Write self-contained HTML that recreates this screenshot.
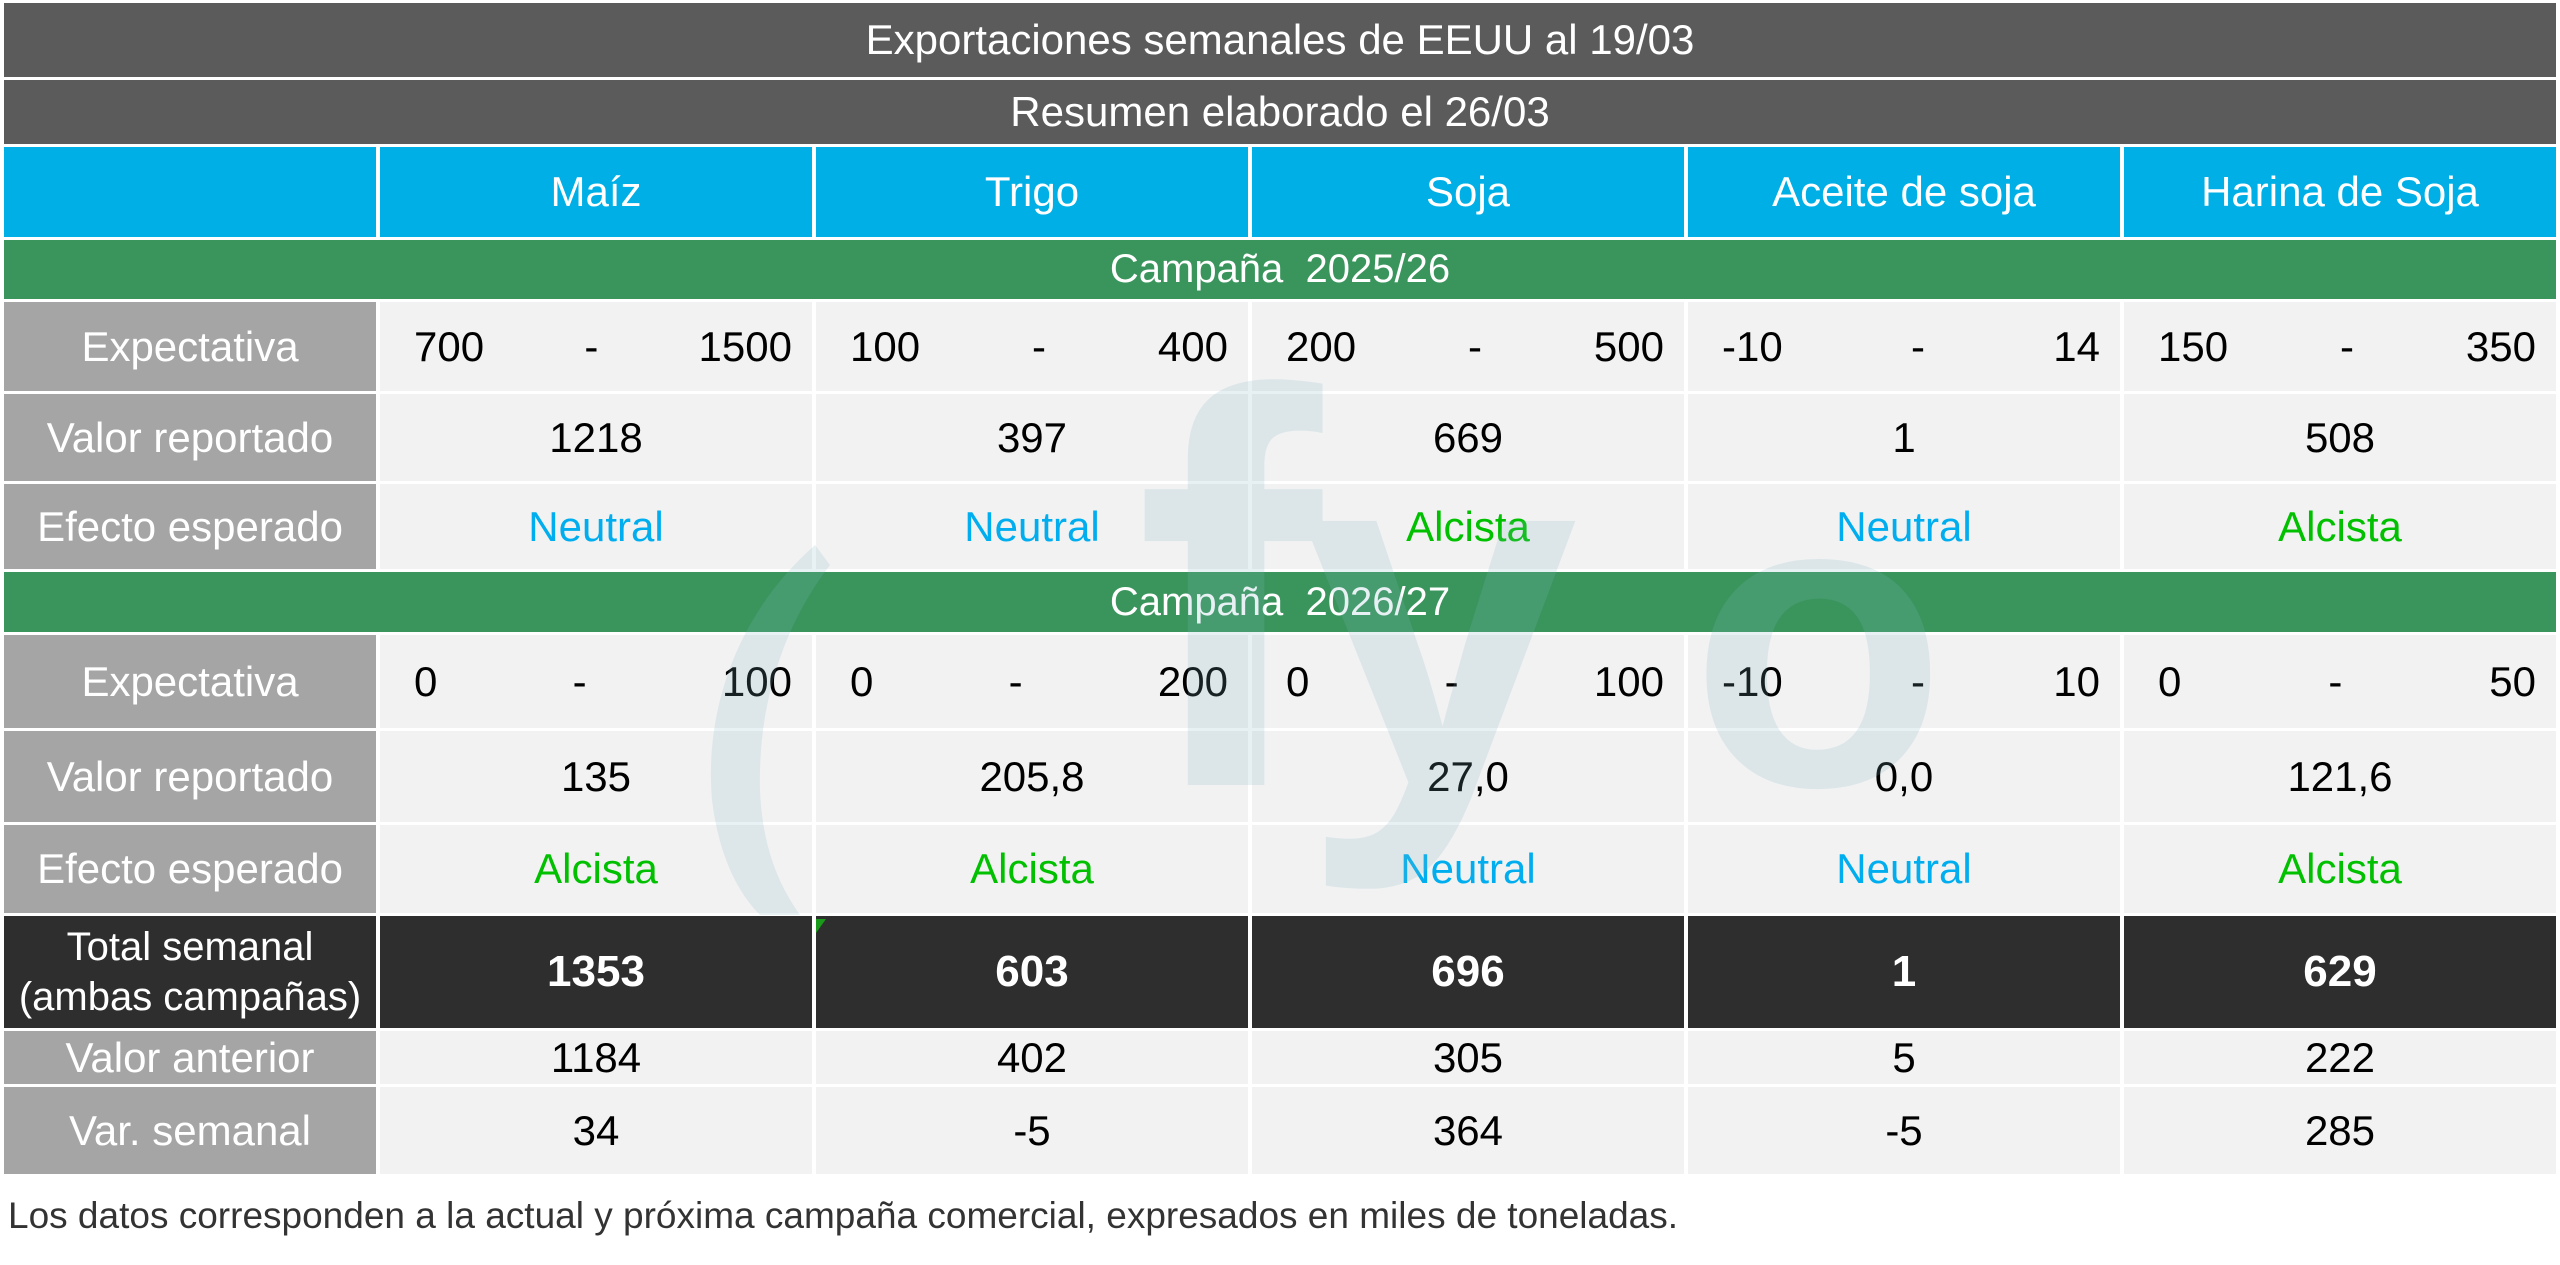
<!DOCTYPE html>
<html><head><meta charset="utf-8">
<style>
html,body{margin:0;padding:0;background:#fff;width:2560px;height:1265px;overflow:hidden;position:relative}
body{font-family:"Liberation Sans Narrow","Liberation Sans",sans-serif}
table{position:absolute;left:0;top:0;width:2560px;border-collapse:separate;border-spacing:4px 3px;table-layout:fixed;margin:0}
td{padding:0;text-align:center;font-size:42px;color:#000;background:#f2f2f2;white-space:nowrap}
.t{background:#5b5b5b;color:#fff;font-size:42px}
.h{background:#00afe5;color:#fff;font-size:42px}
.g{background:#3a955d;color:#fff;font-size:40px}
.l{background:#a5a5a5;color:#fff;font-size:42px}
.d{background:#2e2e2e;color:#fff;font-weight:bold;font-size:44px}
.e{display:flex;justify-content:space-between;padding:0 20px 0 34px}
.n{color:#00aeef}.a{color:#00c000}
.foot{position:absolute;left:8px;top:1195px;font-size:37px;color:#333}
svg{position:absolute;left:0;top:0;pointer-events:none}
</style></head><body>
<table>
<colgroup><col style="width:372px"><col><col><col><col><col></colgroup>
<tr style="height:74px"><td class="t" colspan="6">Exportaciones semanales de EEUU al 19/03</td></tr>
<tr style="height:64px"><td class="t" colspan="6">Resumen elaborado el 26/03</td></tr>
<tr style="height:90px"><td class="h"></td><td class="h">Maíz</td><td class="h">Trigo</td><td class="h">Soja</td><td class="h">Aceite de soja</td><td class="h">Harina de Soja</td></tr>
<tr style="height:59px"><td class="g" colspan="6">Campaña &nbsp;2025/26</td></tr>
<tr style="height:89px"><td class="l">Expectativa</td>
<td><div class="e"><span>700</span><span>-</span><span>1500</span></div></td>
<td><div class="e"><span>100</span><span>-</span><span>400</span></div></td>
<td><div class="e"><span>200</span><span>-</span><span>500</span></div></td>
<td><div class="e"><span>-10</span><span>-</span><span>14</span></div></td>
<td><div class="e"><span>150</span><span>-</span><span>350</span></div></td></tr>
<tr style="height:87px"><td class="l">Valor reportado</td><td>1218</td><td>397</td><td>669</td><td>1</td><td>508</td></tr>
<tr style="height:85px"><td class="l">Efecto esperado</td><td class="n">Neutral</td><td class="n">Neutral</td><td class="a">Alcista</td><td class="n">Neutral</td><td class="a">Alcista</td></tr>
<tr style="height:60px"><td class="g" colspan="6">Campaña &nbsp;2026/27</td></tr>
<tr style="height:93px"><td class="l">Expectativa</td>
<td><div class="e"><span>0</span><span>-</span><span>100</span></div></td>
<td><div class="e"><span>0</span><span>-</span><span>200</span></div></td>
<td><div class="e"><span>0</span><span>-</span><span>100</span></div></td>
<td><div class="e"><span>-10</span><span>-</span><span>10</span></div></td>
<td><div class="e"><span>0</span><span>-</span><span>50</span></div></td></tr>
<tr style="height:91px"><td class="l">Valor reportado</td><td>135</td><td>205,8</td><td>27,0</td><td>0,0</td><td>121,6</td></tr>
<tr style="height:88px"><td class="l">Efecto esperado</td><td class="a">Alcista</td><td class="a">Alcista</td><td class="n">Neutral</td><td class="n">Neutral</td><td class="a">Alcista</td></tr>
<tr style="height:112px"><td class="d" style="font-weight:normal;font-size:40px;line-height:50px">Total semanal<br>(ambas campañas)</td><td class="d">1353</td><td class="d">603</td><td class="d">696</td><td class="d">1</td><td class="d">629</td></tr>
<tr style="height:53px"><td class="l">Valor anterior</td><td>1184</td><td>402</td><td>305</td><td>5</td><td>222</td></tr>
<tr style="height:87px"><td class="l">Var. semanal</td><td>34</td><td>-5</td><td>364</td><td>-5</td><td>285</td></tr>
</table>
<svg width="2560" height="1265">
<g fill="#7fb6c4" opacity="0.18" font-family="Liberation Sans" font-weight="bold">
<path d="M815,545 C730,620 705,720 712,800 C718,850 735,890 760,915 L800,915 C775,880 762,840 760,790 C758,710 780,630 830,565 Z"/>
<text x="1135" y="785" font-size="560">f</text>
<text x="1300" y="785" font-size="500">y</text>
<text x="1690" y="785" font-size="420">o</text>
</g>
</svg>
<div style="position:absolute;left:816px;top:919px;width:0;height:0;border-top:14px solid #1a9a1a;border-right:10px solid transparent"></div>
<div class="foot">Los datos corresponden a la actual y próxima campaña comercial, expresados en miles de toneladas.</div>
</body></html>
